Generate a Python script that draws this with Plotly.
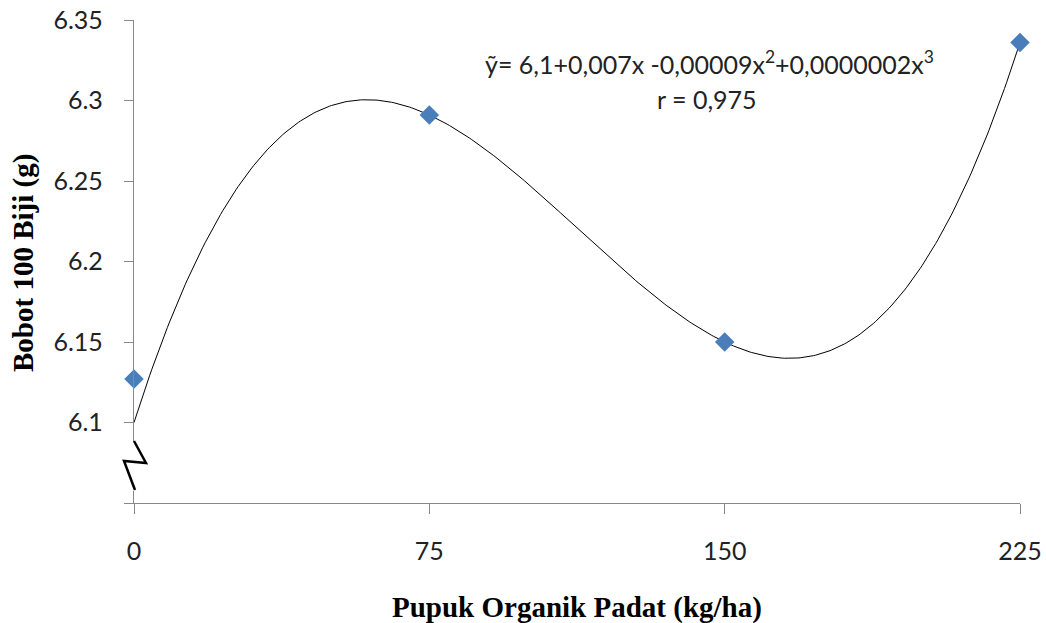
import numpy as np
import plotly.graph_objects as go

# Data
dose = [0, 75, 150, 225]                 # Pupuk Organik Padat (kg/ha)
weight = [6.127, 6.291, 6.150, 6.336]    # Bobot 100 Biji (g)
intercept = 6.1
x_ticks = [0, 75, 150, 225]
y_ticks = [6.1, 6.15, 6.2, 6.25, 6.3, 6.35]
y_tick_text = ["6.1", "6.15", "6.2", "6.25", "6.3", "6.35"]
y_bottom_tick = [6.05]
equation = "ỹ= 6,1+0,007x -0,00009x<sup>2</sup>+0,0000002x<sup>3</sup>"
r_text = "r = 0,975"

# Cubic trend with fixed intercept (least squares)
xd = np.array(dose, float)
yd = np.array(weight, float) - intercept
A = np.vstack([xd, xd**2, xd**3]).T
coef, *_ = np.linalg.lstsq(A, yd, rcond=None)
xs = np.linspace(0, 225, 400)
ys = intercept + coef[0]*xs + coef[1]*xs**2 + coef[2]*xs**3

fig = go.Figure()
fig.add_trace(go.Scatter(x=xs, y=ys, mode="lines",
                         line=dict(color="black", width=1), hoverinfo="skip",
                         showlegend=False))
fig.add_trace(go.Scatter(x=dose, y=weight, mode="markers",
                         marker=dict(symbol="diamond", size=15, color="#4A7EBB"),
                         showlegend=False, cliponaxis=False))

W, H = 1046, 623
L, R, T, B = 134, 26, 20, 120
pw, ph = W - L - R, H - T - B

def px(xp):
    return (xp - L) / pw

def py(yp):
    return (H - B - yp) / ph

# axis break: white cover and zigzag
fig.add_shape(type="rect", xref="paper", yref="paper",
              x0=px(128), x1=px(141), y0=py(491), y1=py(441),
              fillcolor="white", line=dict(width=0), layer="above")
zig = [(134, 441), (146, 463), (124, 461), (135, 490)]
path = "M " + " L ".join(f"{px(a)},{py(b)}" for a, b in zig)
fig.add_shape(type="path", xref="paper", yref="paper", path=path,
              line=dict(color="black", width=2.5), layer="above")

axis_font = dict(family="Lato, Carlito, sans-serif", size=25, color="#222222")
fig.update_xaxes(range=[0, 225], tickvals=x_ticks, ticktext=[str(v) for v in x_ticks],
                 showgrid=False, zeroline=False, showline=True, linecolor="#888888",
                 linewidth=1.3, ticks="outside", ticklen=10, tickcolor="#888888",
                 tickfont=axis_font, ticklabelstandoff=16, automargin=False)
fig.update_yaxes(range=[6.05, 6.35], tickvals=y_ticks, ticktext=y_tick_text,
                 showgrid=False, zeroline=False, showline=True, linecolor="#888888",
                 linewidth=1.3, ticks="outside", ticklen=9, tickcolor="#888888",
                 tickfont=axis_font, ticklabelstandoff=16, automargin=False,
                 minor=dict(tickvals=y_bottom_tick, ticks="outside", ticklen=9,
                            tickcolor="#888888", showgrid=False))

title_font = dict(family="Liberation Serif, Times New Roman, serif", size=29, color="black")
fig.add_annotation(text="<b>Pupuk Organik Padat (kg/ha)</b>", xref="paper", yref="paper",
                   x=0.5, y=0, yshift=-104, showarrow=False, font=title_font,
                   xanchor="center", yanchor="middle")
fig.add_annotation(text="<b>Bobot 100 Biji (g)</b>", xref="paper", yref="paper",
                   x=0, y=py(263), xshift=-111, textangle=-90, showarrow=False,
                   font=title_font, xanchor="center", yanchor="middle")

eq_font = dict(family="Lato, Carlito, sans-serif", size=25, color="#222222")
fig.add_annotation(text=equation, xref="paper", yref="paper", x=px(709), y=py(62),
                   showarrow=False, font=eq_font, xanchor="center", yanchor="middle")
fig.add_annotation(text=r_text, xref="paper", yref="paper", x=px(707), y=py(99),
                   showarrow=False, font=eq_font, xanchor="center", yanchor="middle")

fig.update_layout(width=W, height=H, margin=dict(l=L, r=R, t=T, b=B, autoexpand=False),
                  plot_bgcolor="white", paper_bgcolor="white")
fig.write_html("out.html")
